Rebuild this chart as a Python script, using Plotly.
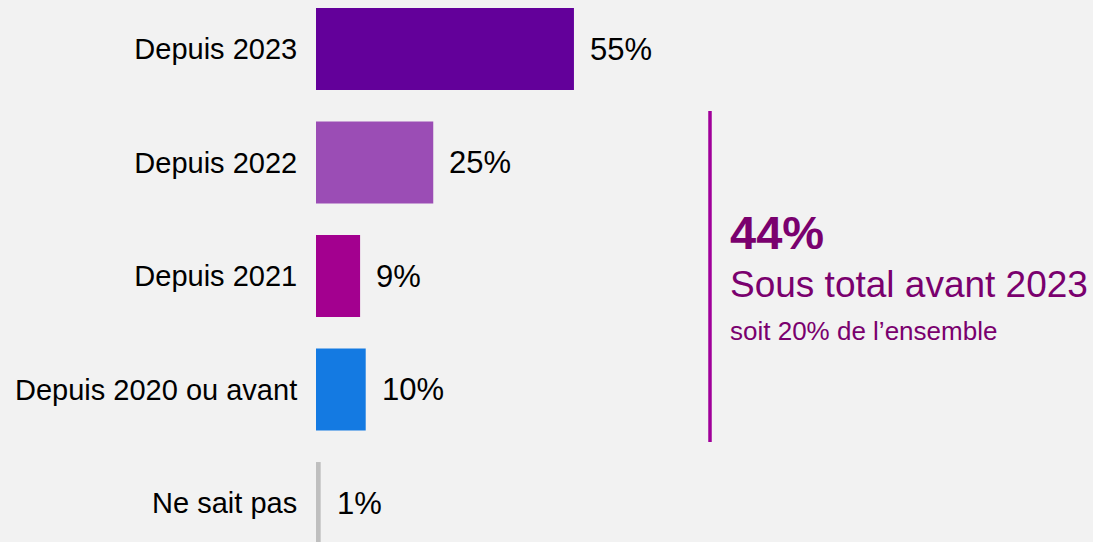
import plotly.graph_objects as go

categories = ["Depuis 2023", "Depuis 2022", "Depuis 2021", "Depuis 2020 ou avant", "Ne sait pas"]
values = [55, 25, 9.4, 10.6, 1]
value_labels = ["55%", "25%", "9%", "10%", "1%"]
bar_colors = ["#63009A", "#9B4DB5", "#A3008F", "#147AE2", "#BFBFBF"]

subtotal_value = "44%"
subtotal_title = "Sous total avant 2023"
subtotal_note = "soit 20% de l\u2019ensemble"

BG = "#F2F2F2"
FONT = "Liberation Sans, Arial, sans-serif"
W, H = 1093, 542
L = 316
px_per_unit = 4.69
plot_w = W - L

fig = go.Figure()
fig.add_trace(go.Bar(
    x=values, y=categories, orientation="h",
    marker=dict(color=bar_colors, line=dict(width=0)),
    width=0.722, hoverinfo="skip",
))

for v, lab, cat in zip(values, value_labels, categories):
    fig.add_annotation(x=v, y=cat, xref="x", yref="y", text=lab, showarrow=False,
                       xanchor="left", yanchor="middle", xshift=14,
                       font=dict(family=FONT, size=31, color="#000000"))

def px_x(p):
    return (p - L) / plot_w

def px_y(p):
    return 1 - p / H

fig.add_shape(type="line", xref="paper", yref="paper",
              x0=px_x(710), x1=px_x(710), y0=px_y(111), y1=px_y(442),
              line=dict(color="#A0009A", width=3.5))

fig.add_annotation(xref="paper", yref="paper", x=px_x(728), y=px_y(232), text="<b>" + subtotal_value + "</b>",
                   showarrow=False, xanchor="left", yanchor="middle",
                   font=dict(family=FONT, size=47, color="#7A006E"))
fig.add_annotation(xref="paper", yref="paper", x=px_x(728), y=px_y(284), text=subtotal_title,
                   showarrow=False, xanchor="left", yanchor="middle",
                   font=dict(family=FONT, size=37, color="#7A006E"))
fig.add_annotation(xref="paper", yref="paper", x=px_x(728), y=px_y(331), text=subtotal_note,
                   showarrow=False, xanchor="left", yanchor="middle",
                   font=dict(family=FONT, size=26, color="#7A006E"))

row_px = 113.5
top_center = 49
y_top = -top_center / row_px
y_bot = (len(categories) - 1) + (H - (top_center + row_px * (len(categories) - 1))) / row_px

fig.update_layout(
    width=W, height=H,
    margin=dict(l=L, r=0, t=0, b=0, pad=0),
    paper_bgcolor=BG, plot_bgcolor=BG,
    showlegend=False,
    xaxis=dict(range=[0, plot_w / px_per_unit], visible=False, fixedrange=True),
    yaxis=dict(range=[y_bot, y_top], type="category", showgrid=False, zeroline=False,
               showline=False, ticks="outside", ticklen=12, tickcolor="rgba(0,0,0,0)",
               tickfont=dict(family=FONT, size=29, color="#000000"), fixedrange=True),
)

fig.write_html("out.html", config={"displayModeBar": False},
               post_script="document.body.style.margin='0';document.body.style.padding='0';document.body.style.overflow='hidden';document.body.style.background='#F2F2F2';")
